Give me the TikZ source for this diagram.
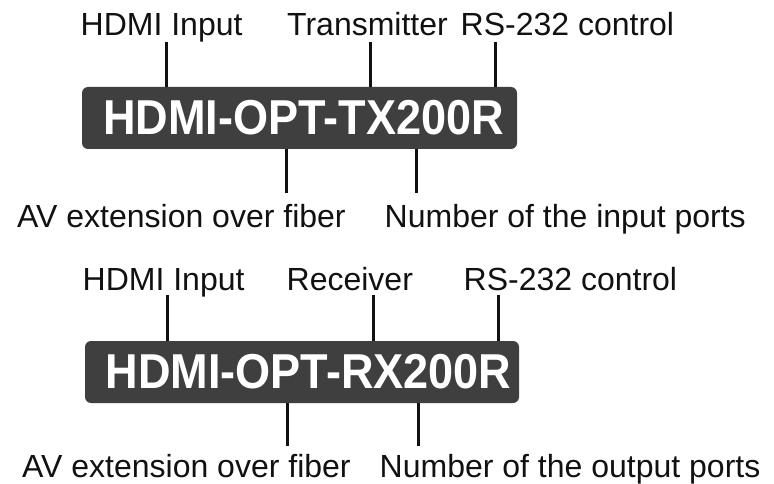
\documentclass[tikz,border=0pt]{standalone}
\usepackage{fontspec}
\setmainfont{Liberation Sans}
\newfontfamily\modelfont{Liberation Sans}[FakeStretch=0.92]
\usepackage{xcolor}
\usetikzlibrary{calc}
\definecolor{boxgray}{HTML}{3F3F3F}
\definecolor{inkblack}{HTML}{111111}
\tikzset{
    modelbox/.style={fill=boxgray, text=white, rounded corners=6pt,
        minimum width=#1, minimum height=62pt, inner sep=0pt,
        font=\modelfont\bfseries\fontsize{49}{55}\selectfont},
    callout/.style={font=\fontsize{32}{36}\selectfont, text=inkblack,
        inner sep=0pt, anchor=base west},
    leader/.style={draw=inkblack, line width=3pt},
}

\begin{document}
\begin{tikzpicture}[x=1pt, y=-1pt]

    \useasboundingbox (0,0) rectangle (774,484);

    % ── Transmitter model name ─────────────────────────────────────────────
    \node[modelbox=435pt] (txbox) at (299.5,118)
        {\hspace*{8pt}HDMI-OPT-TX200R};

    % ── Transmitter callouts ───────────────────────────────────────────────
    \node[callout] (txin)   at (80.5,36)  {HDMI Input};
    \node[callout] (txrole) at (287,36)   {Transmitter};
    \node[callout] (txrs)   at (460.5,36) {RS-232 control};
    \node[callout] (txav)   at (17,227)   {AV extension over fiber};
    \node[callout] (txnum)  at (384.5,227) {Number of the input ports};

    \coordinate (txin-l)   at (166,42);
    \coordinate (txrole-l) at (370,42);
    \coordinate (txrs-l)   at (495,42);
    \coordinate (txav-l)   at (286,193);
    \coordinate (txnum-l)  at (416,193);

    \draw[leader] (txin-l)   -- (txin-l |- txbox.north);
    \draw[leader] (txrole-l) -- (txrole-l |- txbox.north);
    \draw[leader] (txrs-l)   -- (txrs-l |- txbox.north);
    \draw[leader] (txav-l)   -- (txav-l |- txbox.south);
    \draw[leader] (txnum-l)  -- (txnum-l |- txbox.south);

    % ── Receiver model name ────────────────────────────────────────────────
    \node[modelbox=434pt] (rxbox) at (302,372)
        {\hspace*{13pt}HDMI-OPT-RX200R};

    % ── Receiver callouts ──────────────────────────────────────────────────
    \node[callout] (rxin)   at (82.5,290)  {HDMI Input};
    \node[callout] (rxrole) at (286.5,290) {Receiver};
    \node[callout] (rxrs)   at (463.5,290) {RS-232 control};
    \node[callout] (rxav)   at (22,477)    {AV extension over fiber};
    \node[callout] (rxnum)  at (379.5,477) {Number of the output ports};

    \coordinate (rxin-l)   at (167,295);
    \coordinate (rxrole-l) at (373,295);
    \coordinate (rxrs-l)   at (498,295);
    \coordinate (rxav-l)   at (287,446);
    \coordinate (rxnum-l)  at (418,446);

    \draw[leader] (rxin-l)   -- (rxin-l |- rxbox.north);
    \draw[leader] (rxrole-l) -- (rxrole-l |- rxbox.north);
    \draw[leader] (rxrs-l)   -- (rxrs-l |- rxbox.north);
    \draw[leader] (rxav-l)   -- (rxav-l |- rxbox.south);
    \draw[leader] (rxnum-l)  -- (rxnum-l |- rxbox.south);

\end{tikzpicture}
\end{document}
